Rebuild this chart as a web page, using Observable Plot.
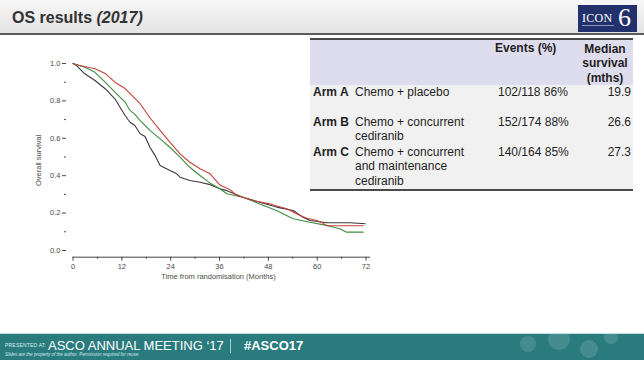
<!DOCTYPE html>
<html>
<head>
<meta charset="utf-8">
<script src="https://cdn.jsdelivr.net/npm/d3@7"></script>
<script src="https://cdn.jsdelivr.net/npm/@observablehq/plot@0.6"></script>
<style>
html, body { margin: 0; padding: 0; background: #fff; }
body { width: 644px; height: 367px; position: relative; overflow: hidden; font-family: "Liberation Sans", Arial, sans-serif; }
#header { position: absolute; left: 0; top: 0; width: 644px; height: 33px; background: linear-gradient(#f7f7f7, #e3e3e3); border-bottom: 2px solid #5c5c5c; }
#title { position: absolute; left: 12px; top: 9px; font-size: 16px; font-weight: bold; color: #333; white-space: nowrap; }
#logo { position: absolute; left: 578px; top: 5px; width: 59px; height: 27px; background: #22316c; }
#logo .icon { position: absolute; left: 4px; top: 6px; font-family: "Liberation Serif", "DejaVu Serif", serif; font-size: 12px; color: #fff; letter-spacing: 0.3px; }
#logo .six { position: absolute; left: 40px; top: -2px; font-family: "Liberation Serif", "DejaVu Serif", serif; font-size: 26px; color: #fff; }
#logo .sub { position: absolute; left: 4px; top: 20px; width: 32px; height: 1px; background: #8a93b8; }
#table { position: absolute; left: 310px; top: 38px; width: 323px; height: 149px; border-top: 2px solid #4a4a4a; border-bottom: 2px solid #4a4a4a; background: #f1f1f1; }
#thead { position: absolute; left: 0; top: 0; width: 323px; height: 45px; background: #dedded; }
.cell { position: absolute; font-size: 12px; line-height: 14.3px; color: #1e1e1e; white-space: nowrap; }
.b { font-weight: bold; }
#chart { position: absolute; left: 0; top: 0; }
#footer { position: absolute; left: 0; top: 333px; width: 644px; height: 26px; background: #2a7b7e; border-top: 1px solid #bfe3e3; overflow: hidden; }
#footer .pres { position: absolute; left: 5px; top: 8px; font-size: 5px; color: #d8eeee; letter-spacing: 0.2px; }
#footer .asco { position: absolute; left: 48px; top: 4px; font-size: 13px; color: #fff; }
#footer .sep { position: absolute; left: 230px; top: 5px; width: 1px; height: 14px; background: #9fcfcf; }
#footer .hash { position: absolute; left: 244px; top: 4px; font-size: 13px; font-weight: bold; color: #fff; }
#footer .disc { position: absolute; left: 5px; top: 18px; font-size: 4.5px; color: #d0eaea; font-style: italic; }
#footer .dot { position: absolute; border-radius: 50%; background: rgba(255,255,255,0.13); }
</style>
</head>
<body>
<div id="header"><div id="title">OS results <i>(2017)</i></div></div>
<div id="logo"><div class="icon">ICON</div><div class="six">6</div><div class="sub"></div></div>
<div id="table"><div id="thead"></div></div>
<div id="footer">
  <div class="pres">PRESENTED AT:</div>
  <div class="asco">ASCO ANNUAL MEETING ‘17</div>
  <div class="sep"></div>
  <div class="hash">#ASCO17</div>
  <div class="disc">Slides are the property of the author. Permission required for reuse.</div>
  <div class="dot" style="left:520px;top:2px;width:16px;height:16px"></div>
  <div class="dot" style="left:548px;top:-6px;width:22px;height:22px"></div>
  <div class="dot" style="left:580px;top:6px;width:18px;height:18px"></div>
  <div class="dot" style="left:604px;top:-4px;width:14px;height:14px"></div>
</div>
<script>
// ---- Table data ----
const armNames = ["Arm A", "Arm B", "Arm C"];
const treatments = [["Chemo + placebo"], ["Chemo + concurrent", "cediranib"], ["Chemo  + concurrent", "and maintenance", "cediranib"]];
const events = ["102/118 86%", "152/174 88%", "140/164 85%"];
const medians = ["19.9", "26.6", "27.3"];
const headEvents = "Events (%)";
const headMedian = ["Median", "survival", "(mths)"];

// ---- Kaplan-Meier curves ----
const timeA = [0, 0.8, 2.9, 5.4, 7.9, 10.3, 12.8, 14.0, 15.2, 16.5, 17.7, 18.9, 20.1, 21.4, 23.8, 25.5, 26.3, 28.7, 31.2, 33.7, 36.1, 37.8, 41.8, 45.9, 50.0, 54.1, 56.5, 58.2, 62.4, 68.0, 71.8];
const survA = [1.0, 0.99, 0.945, 0.909, 0.865, 0.811, 0.722, 0.686, 0.668, 0.624, 0.61, 0.552, 0.51, 0.455, 0.428, 0.41, 0.392, 0.374, 0.365, 0.352, 0.33, 0.32, 0.285, 0.258, 0.232, 0.214, 0.178, 0.16, 0.148, 0.148, 0.143];
const timeB = [0, 0.8, 2.9, 5.4, 7.9, 10.3, 12.8, 14.0, 15.2, 16.5, 18.9, 21.4, 23.8, 26.3, 28.7, 31.2, 33.7, 36.1, 37.8, 41.8, 45.9, 50.0, 54.1, 58.2, 62.3, 65.6, 67.2, 71.3];
const survB = [1.0, 0.995, 0.98, 0.953, 0.9, 0.847, 0.793, 0.749, 0.728, 0.695, 0.642, 0.597, 0.552, 0.499, 0.445, 0.401, 0.36, 0.33, 0.303, 0.285, 0.249, 0.214, 0.17, 0.151, 0.134, 0.116, 0.098, 0.098];
const timeC = [0, 0.8, 5.4, 7.9, 10.3, 12.8, 15.2, 16.5, 18.9, 21.4, 23.8, 26.3, 28.7, 31.2, 33.7, 36.1, 38.6, 40.2, 44.3, 48.4, 52.5, 55.8, 57.5, 59.9, 61.5, 62.4, 71.3];
const survC = [1.0, 0.993, 0.972, 0.947, 0.9, 0.866, 0.813, 0.785, 0.71, 0.642, 0.579, 0.517, 0.472, 0.437, 0.41, 0.35, 0.325, 0.294, 0.267, 0.249, 0.223, 0.187, 0.172, 0.16, 0.145, 0.132, 0.132];
const armColors = ["#3a3a3a", "#3f8c3f", "#c4423c"];

// ---- Axis ticks ----
const xTicks = [0, 12, 24, 36, 48, 60, 72];
const xMinorTicks = [6, 18, 30, 42, 54, 66];
const yTicks = [0.0, 0.2, 0.4, 0.6, 0.8, 1.0];
const yMinorTicks = [0.1, 0.3, 0.5, 0.7, 0.9];

// build table
const table = document.getElementById("table");
function cell(text, left, top, cls, align) {
  const d = document.createElement("div");
  d.className = "cell " + (cls || "");
  d.style.top = top + "px";
  if (align === "right") d.style.right = left + "px"; else if (align === "center") { d.style.left = (left - 40) + "px"; d.style.width = "80px"; d.style.textAlign = "center"; } else d.style.left = left + "px";
  d.innerHTML = text;
  table.appendChild(d);
}
cell(headEvents, 185, 1, "b");
cell(headMedian.join("<br>"), 295, 2, "b", "center");
const rowTops = [45, 75, 105];
armNames.forEach((a, i) => {
  cell(a, 3, rowTops[i], "b");
  cell(treatments[i].join("<br>"), 45, rowTops[i]);
  cell(events[i], 188, rowTops[i]);
  cell(medians[i], 2, rowTops[i], "", "right");
});

// chart
const km = [];
[[timeA, survA], [timeB, survB], [timeC, survC]].forEach(([ts, ss], i) => {
  ts.forEach((t, j) => km.push({arm: armNames[i], t, s: ss[j]}));
});
const yBottom = -0.036;
const chart = Plot.plot({
  width: 644,
  height: 367,
  marginLeft: 66,
  marginRight: 644 - 370,
  marginTop: 63,
  marginBottom: 367 - 256.7,
  style: {background: "transparent", fontFamily: "'Liberation Sans', Arial, sans-serif", fontSize: "7.5px", color: "#4a4a4a"},
  x: {domain: [-1.6, 73.1]},
  y: {domain: [yBottom, 1.0]},
  color: {domain: armNames, range: armColors},
  marks: [
    Plot.axisY(yTicks, {tickSize: 4, tickPadding: 2, tickFormat: d3.format(".1f"), label: "Overall survival", labelAnchor: "center", labelOffset: 31, labelArrow: "none"}),
    Plot.axisY(yMinorTicks, {tickSize: 2, tickFormat: () => "", label: null}),
    Plot.axisX(xTicks, {tickSize: 4, tickPadding: 2, label: "Time from randomisation (Months)", labelAnchor: "center", labelOffset: 22, labelArrow: "none"}),
    Plot.axisX(xMinorTicks, {tickSize: 2, tickFormat: () => "", label: null}),
    Plot.ruleY([yBottom], {x1: 0, x2: 73.1, stroke: "#444"}),
    Plot.line(km, {x: "t", y: "s", z: "arm", stroke: "arm", strokeWidth: 1.1, curve: "linear"})
  ]
});
chart.id = "chart";
document.body.appendChild(chart);
</script>
</body>
</html>
